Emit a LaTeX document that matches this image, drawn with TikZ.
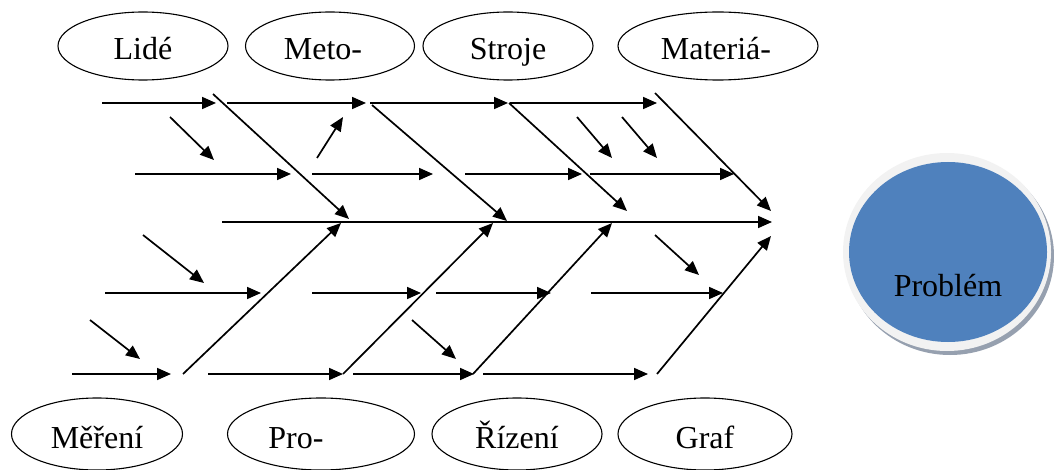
\documentclass[tikz,border=0pt]{standalone}
\usepackage{fontspec}
\setmainfont{Liberation Serif}
\usetikzlibrary{arrows.meta,shapes.geometric}
\definecolor{probblue}{RGB}{79,129,189}
\definecolor{ringgray}{RGB}{242,242,242}
\definecolor{shadowgray}{RGB}{150,160,175}
% shift a label sideways inside its ellipse (by half the given length)
\newcommand{\shiftlabel}[2]{\makebox[0pt]{\hspace{#1}#2}}
\begin{document}
\begin{tikzpicture}[x=1pt,y=-1pt,
  bone/.style={line width=1.7pt},
  arr/.style={bone,-{Triangle[length=14pt,width=12pt]}},
  cause/.style={draw,ellipse,line width=1.1pt,minimum height=68pt,inner sep=0pt,
                text height=28pt,text depth=0pt,
                font=\fontsize{32}{38}\selectfont},
]
\useasboundingbox (0,0) rectangle (1054,470);

% category labels
\node[cause,minimum width=170pt] (lide)   at (143,46) {Lidé};
\node[cause,minimum width=169pt] (metody) at (330,46) {\shiftlabel{-14pt}{Meto-}};
\node[cause,minimum width=170pt] (stroje) at (508,46) {Stroje};
\node[cause,minimum width=200pt] (mat)    at (718,46) {\shiftlabel{-4pt}{Materiá-}};
\node[cause,minimum width=171pt,minimum height=72pt] (mereni) at (97,434) {Měření};
\node[cause,minimum width=187pt,minimum height=72pt] (prostr) at (321,434) {\shiftlabel{-50pt}{Pro-}};
\node[cause,minimum width=170pt,minimum height=72pt] (rizeni) at (517,434) {Řízení};
\node[cause,minimum width=174pt,minimum height=72pt] (graf)   at (705,434) {Graf};

% effect head
\fill[shadowgray] (950,256) ellipse[x radius=104,y radius=99];
\fill[ringgray]   (947,252) ellipse[x radius=104,y radius=99];
\fill[probblue]   (948,252) ellipse[x radius=99,y radius=90];
\node[font=\fontsize{32}{38}\selectfont] (prob) at (948,286) {Problém};

% spine
\coordinate (sa) at (222,222); \coordinate (sb) at (772,222);

% upper horizontal arrows
\coordinate (h1a) at (102,103); \coordinate (h1b) at (216,103);
\coordinate (h2a) at (227,103); \coordinate (h2b) at (366,103);
\coordinate (h3a) at (370,103); \coordinate (h3b) at (508,103);
\coordinate (h4a) at (510,103); \coordinate (h4b) at (657,103);
\coordinate (h5a) at (135,174); \coordinate (h5b) at (291,174);
\coordinate (h6a) at (312,174); \coordinate (h6b) at (433,174);
\coordinate (h7a) at (465,174); \coordinate (h7b) at (582,174);
\coordinate (h8a) at (590,174); \coordinate (h8b) at (734,174);

% lower horizontal arrows
\coordinate (h9a)  at (105,293); \coordinate (h9b)  at (261,293);
\coordinate (h10a) at (312,293); \coordinate (h10b) at (421,293);
\coordinate (h11a) at (436,293); \coordinate (h11b) at (551,293);
\coordinate (h12a) at (591,293); \coordinate (h12b) at (723,293);
\coordinate (h13a) at (72,374);  \coordinate (h13b) at (171,374);
\coordinate (h14a) at (208,374); \coordinate (h14b) at (343,374);
\coordinate (h15a) at (353,374); \coordinate (h15b) at (474,374);
\coordinate (h16a) at (483,374); \coordinate (h16b) at (648,374);

% main bones, upper half
\coordinate (d1a) at (213,94);  \coordinate (d1b) at (349,219);
\coordinate (d2a) at (372,105); \coordinate (d2b) at (507,221);
\coordinate (d3a) at (509,103); \coordinate (d3b) at (627,211);
\coordinate (d4a) at (655,93);  \coordinate (d4b) at (771,211);

% main bones, lower half
\coordinate (u1a) at (183,374); \coordinate (u1b) at (341,223);
\coordinate (u2a) at (343,374); \coordinate (u2b) at (493,223);
\coordinate (u3a) at (473,374); \coordinate (u3b) at (612,223);
\coordinate (u4a) at (657,374); \coordinate (u4b) at (771,236);

% short sub-cause arrows
\coordinate (s1a) at (170,117); \coordinate (s1b) at (214,160);
\coordinate (s2a) at (317,158); \coordinate (s2b) at (343,117);
\coordinate (s3a) at (577,117); \coordinate (s3b) at (612,158);
\coordinate (s4a) at (622,117); \coordinate (s4b) at (657,158);
\coordinate (s5a) at (143,235); \coordinate (s5b) at (204,283);
\coordinate (s6a) at (90,320);  \coordinate (s6b) at (140,359);
\coordinate (s7a) at (412,320); \coordinate (s7b) at (456,359);
\coordinate (s8a) at (655,235); \coordinate (s8b) at (699,275);

\draw[arr] (sa) -- (sb);
\foreach \n in {h1,h2,h3,h4,h5,h6,h7,h8,h9,h10,h11,h12,h13,h14,h15,h16,
                d1,d2,d3,d4,u1,u2,u3,u4,s1,s2,s3,s4,s5,s6,s7,s8}
  \draw[arr] (\n a) -- (\n b);
\end{tikzpicture}
\end{document}
